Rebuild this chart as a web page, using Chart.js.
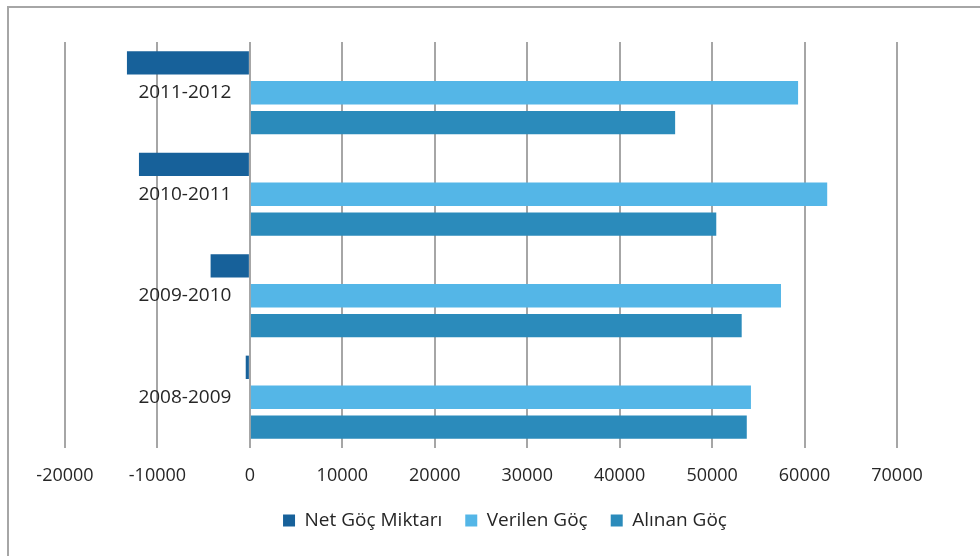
<!DOCTYPE html>
<html>
<head>
<meta charset="utf-8">
<script src="https://cdn.jsdelivr.net/npm/chart.js@4"></script>
<style>
  html, body { margin: 0; padding: 0; background: #fff; }
  #wrap { position: relative; width: 980px; height: 556px; overflow: hidden; }
  #frame { position: absolute; left: 7px; top: 6px; width: 1100px; height: 700px;
           border: 2px solid #a6a6a6; box-sizing: border-box; }
  #chart { position: absolute; left: 0; top: 0; }
</style>
</head>
<body>
<div id="wrap">
  <div id="frame"></div>
  <canvas id="chart" width="980" height="556"></canvas>
</div>
<script>
// dönemler (yukarıdan aşağıya)
var periods = ['2011-2012', '2010-2011', '2009-2010', '2008-2009'];
var netGoc     = [-13300, -12000, -4250, -450];
var verilenGoc = [59300, 62450, 57450, 54200];
var alinanGoc  = [46000, 50450, 53200, 53750];

var xMin = -20000, xMax = 70000, xStep = 10000;

// lejantı biraz sağa kaydır (orijinaldeki gibi)
var legendShift = {
  id: 'legendShift',
  afterLayout: function (chart) {
    if (chart.legend) {
      chart.legend.left += 24;
      chart.legend.right += 24;
    }
  }
};

var ctx = document.getElementById('chart').getContext('2d');
new Chart(ctx, {
  type: 'bar',
  data: {
    labels: periods,
    datasets: [
      { label: 'Net Göç Miktarı', data: netGoc, backgroundColor: '#17619a' },
      { label: 'Verilen Göç', data: verilenGoc, backgroundColor: '#54b6e7' },
      { label: 'Alınan Göç', data: alinanGoc, backgroundColor: '#2b8bbb' }
    ]
  },
  plugins: [legendShift],
  options: {
    indexAxis: 'y',
    responsive: false,
    animation: false,
    categoryPercentage: 0.885,
    barPercentage: 0.78,
    layout: { padding: { left: 65, right: 83, top: 42, bottom: 16 } },
    scales: {
      x: {
        min: xMin,
        max: xMax,
        afterFit: function (scale) { scale.height = 40; },
        ticks: {
          stepSize: xStep,
          color: '#262626',
          padding: 17,
          font: { family: 'Open Sans', size: 18 },
          callback: function (v) { return String(v); }
        },
        grid: { color: '#a6a6a6', lineWidth: 2, drawTicks: false },
        border: { display: false }
      },
      y: {
        // etiketler sıfır çizgisinin hemen solunda
        position: { x: -2000 },
        grid: { display: false, drawTicks: false },
        border: { display: false },
        ticks: {
          color: '#262626',
          font: { family: 'Open Sans', size: 19 }
        }
      }
    },
    plugins: {
      legend: {
        position: 'bottom',
        labels: {
          boxWidth: 12,
          boxHeight: 12,
          padding: 23,
          color: '#262626',
          font: { family: 'Open Sans', size: 19 }
        }
      },
      tooltip: { enabled: false }
    }
  }
});
</script>
</body>
</html>
